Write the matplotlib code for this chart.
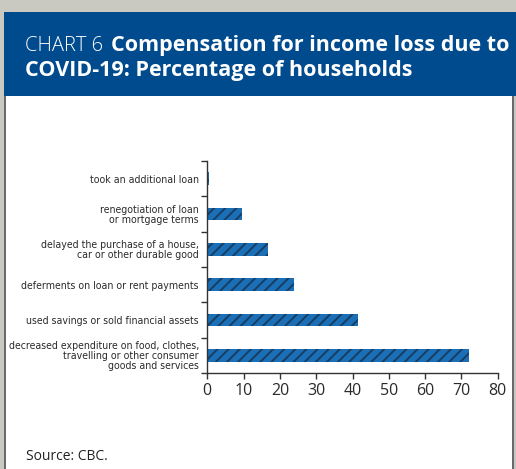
import matplotlib.pyplot as plt
from matplotlib.patches import Rectangle

categories = ['decreased expenditure on food, clothes,\ntravelling or other consumer\ngoods and services',
              'used savings or sold financial assets',
              'deferments on loan or rent payments',
              'delayed the purchase of a house,\ncar or other durable good',
              'renegotiation of loan\nor mortgage terms',
              'took an additional loan']
values = [72.2, 41.4, 23.8, 16.8, 9.5, 0.6]
xticks = [0, 10, 20, 30, 40, 50, 60, 70, 80]

W, H = 516, 469
fig = plt.figure(figsize=(W / 100, H / 100), dpi=100)
fig.patch.set_facecolor('#c9c9c1')


# white panel with grey side borders, blue header on top
def box(x, y, w, h, c):
    fig.add_artist(Rectangle((x / W, 1 - (y + h) / H), w / W, h / H, transform=fig.transFigure,
                             facecolor=c, edgecolor='none', zorder=-5))


box(4, 96, 510, H - 96, 'white')
box(4, 96, 2, H - 96, '#6a6a6a')
box(512, 96, 2, H - 96, '#6a6a6a')
box(4, 12, W - 4, 84, '#004a8e')

fig.text(25 / W, 1 - 51 / H, 'CHART 6', color='white', fontsize=14.5,
         family='Open Sans', weight='light', va='baseline', ha='left')
fig.text(111 / W, 1 - 51 / H, 'Compensation for income loss due to', color='white',
         fontsize=15.5, family='Open Sans', weight='bold', va='baseline', ha='left')
fig.text(25 / W, 1 - 76 / H, 'COVID-19: Percentage of households', color='white',
         fontsize=15.5, family='Open Sans', weight='bold', va='baseline', ha='left')

plt.rcParams['hatch.linewidth'] = 1.4
ax = fig.add_axes([207.3 / W, 1 - 373 / H, 290.4 / W, 212 / H])
ax.patch.set_alpha(0)
ax.barh(range(len(values)), values, height=0.36, color='#1b6fb6', hatch='///',
        edgecolor='#173d63', linewidth=0)
ax.set_xlim(0, 80)
ax.set_ylim(-0.5, len(values) - 0.5)
ax.set_xticks(xticks)
ax.set_yticks(range(len(values)))
ax.set_yticklabels(categories, family='DejaVu Sans', stretch='condensed',
                   fontsize=7.6, linespacing=1.0)
ax.set_yticks([i - 0.5 for i in range(len(values) + 1)], minor=True)
ax.tick_params(axis='y', which='major', length=0, pad=6, colors='#2a2a2a')
ax.tick_params(axis='y', which='minor', length=4, width=1, color='#333333')
ax.tick_params(axis='x', length=4, width=1, color='#333333', labelsize=11.5,
               labelcolor='#2a2a2a', pad=3)
for lab in ax.get_xticklabels():
    lab.set_family('Open Sans')
for s in ['top', 'right']:
    ax.spines[s].set_visible(False)
for s in ['left', 'bottom']:
    ax.spines[s].set_color('#333333')
    ax.spines[s].set_linewidth(1)

fig.text(26 / W, 1 - 460 / H, 'Source: CBC.', fontsize=10, family='Open Sans',
         color='#222222', va='baseline')

fig.savefig('out.png', dpi=100)
